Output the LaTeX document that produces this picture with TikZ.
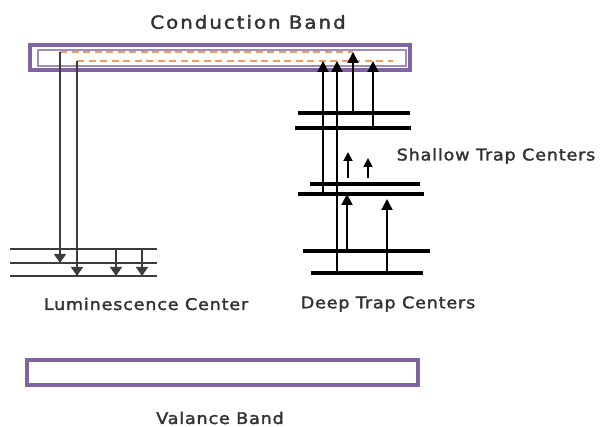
\documentclass[tikz,border=0pt]{standalone}
\usepackage{fontspec}
\newfontfamily\bandfont[FakeStretch=1.1,LetterSpace=5,FakeBold=2]{DejaVu Sans}
\newfontfamily\cbfont[FakeStretch=1.1,LetterSpace=11,FakeBold=2]{DejaVu Sans}
\definecolor{bandpurple}{RGB}{128, 100, 162}
\definecolor{bandorange}{RGB}{246, 155, 90}
\definecolor{levelgray}{RGB}{60, 60, 60}
\usepackage{tikz}
\usetikzlibrary{arrows.meta}

\begin{document}
\begin{tikzpicture}[x=1pt, y=-1pt, font=\bandfont\fontsize{16}{18}\selectfont,
  band/.style={draw=bandpurple, line width=4pt, minimum width=#1, minimum height=25pt, inner sep=0pt},
  trapline/.style={line width=3.8pt, black},
  lumline/.style={line width=1.4pt, levelgray},
  dashline/.style={bandorange, line width=1.5pt, dash pattern=on 7pt off 4.5pt},
  downtrans/.style={line width=1.5pt, levelgray, -{Triangle[width=12pt, length=9pt]}},
  uptrans/.style={line width=1.9pt, -{Triangle[width=11pt, length=11pt]}},
  label/.style={text=black!80, inner sep=0pt}]
  \useasboundingbox (0,0) rectangle (600,427);

  % bands
  \node[band=380pt] (cb) at (220,57.5) {};
  \node[draw=bandpurple!75, line width=1.2pt, minimum width=368pt, minimum height=16pt, inner sep=0pt] (cbin) at (222,58) {};
  \node[band=391pt] (vb) at (222.5,372.5) {};
  \draw[dashline] (60,52) coordinate (dashT) -- (353,52);
  \draw[dashline] (77,61) coordinate (dashB) -- (393,61);

  % luminescence levels
  \foreach \name/\y in {lumA/249, lumB/263, lumC/276}
    \draw[lumline] (10,\y) coordinate (\name) -- (157,\y);

  % trap levels
  \foreach \name/\y/\xa/\xb in {trA/113/298/410, trB/128/295/411, trC/184/310/420,
                                trD/194/298/424, trE/251/303/430, trF/273/311/423}
    \draw[trapline] (\xa,\y) coordinate (\name) -- (\xb,\y);

  % recombination
  \draw[downtrans] (dashT -| 60,0) -- (lumB -| 60,0);
  \draw[downtrans] (dashB -| 77,0) -- (lumC -| 77,0);
  \foreach \x in {116, 142}
    \draw[downtrans] (lumA -| \x,0) -- (lumC -| \x,0);

  % release from traps
  \draw[uptrans] (trD -| 323,0) -- (dashB -| 323,0);
  \draw[uptrans] (trF -| 337,0) -- (dashB -| 337,0);
  \draw[uptrans] (trA -| 353,0) -- (dashT -| 353,0);
  \draw[uptrans] (trB -| 373,0) -- (dashB -| 373,0);
  \draw[uptrans] (trE -| 347,0) -- (trD -| 347,0);
  \draw[uptrans, shorten >=5pt] (trF -| 387,0) -- (trD -| 387,0);
  \coordinate (shA) at (348,178);
  \coordinate (shB) at (368,178);
  \draw[uptrans, -{Triangle[width=9pt, length=9pt]}] (shA) -- ++(0,-26);
  \draw[uptrans, -{Triangle[width=9pt, length=9pt]}] (shB) -- ++(0,-20);

  % labels
  \node[label, font=\cbfont\fontsize{18}{20}\selectfont] (cblabel) at (248,22) {Conduction Band};
  \node[label] (shlabel) at (496,156) {Shallow Trap Centers};
  \node[label] (lumlabel) at (146,304) {Luminescence Center};
  \node[label] (deeplabel) at (388,304) {Deep Trap Centers};
  \node[label] (vblabel) at (220,418) {Valance Band};
\end{tikzpicture}
\end{document}
